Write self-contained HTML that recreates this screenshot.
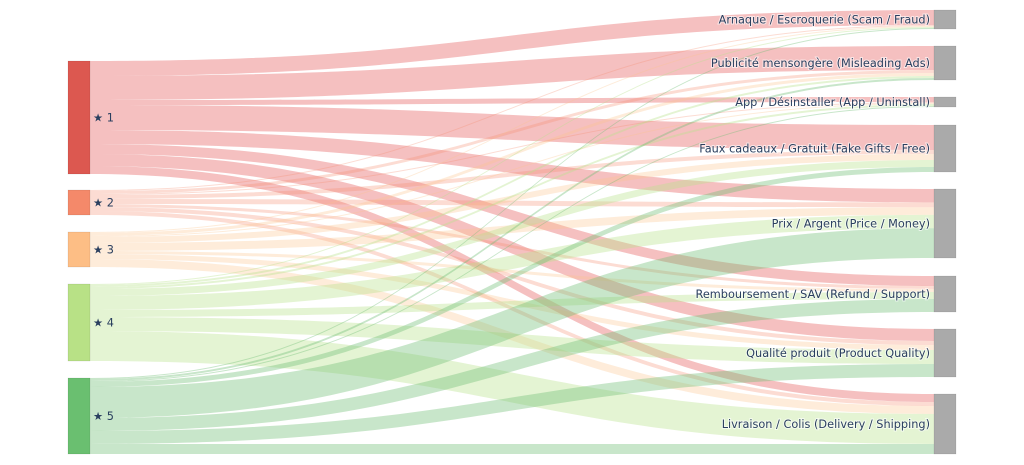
<!DOCTYPE html>
<html><head><meta charset="utf-8"><style>
html,body{margin:0;padding:0;background:#fff;width:1024px;height:465px;overflow:hidden}
text{font-family:"DejaVu Sans","Liberation Sans",sans-serif;font-size:11.3px;fill:#2a3f5f}
</style></head><body>
<svg id="s" width="1024" height="465" xmlns="http://www.w3.org/2000/svg"></svg>
<script>
const S=[[61,174,'#dc5850','rgba(230,90,90,0.38)'],[190,215,'#f4896a','rgba(244,140,110,0.3)'],[232,267,'#fdbe85','rgba(253,195,140,0.32)'],[284,361,'#b8e186','rgba(185,225,140,0.38)'],[378,454,'#6abf70','rgba(110,190,115,0.38)']];
const T=[[10,29,'Arnaque / Escroquerie (Scam / Fraud)'],[46,80,'Publicité mensongère (Misleading Ads)'],[97,107,'App / Désinstaller (App / Uninstall)'],[125,172,'Faux cadeaux / Gratuit (Fake Gifts / Free)'],[189,258,'Prix / Argent (Price / Money)'],[276,312,'Remboursement / SAV (Refund / Support)'],[329,377,'Qualité produit (Product Quality)'],[394,454,'Livraison / Colis (Delivery / Shipping)']];
const V=[[15,24,5,25,14,10,12,8],[1,3,1,4,5,3,4,4],[1,3,1,6,8,3,5,8],[1,2,2,7,14,7,14,30],[1,2,1,5,31,13,13,10]];
let h='';
const ss=S.map((s,i)=>(s[1]-s[0])/V[i].reduce((a,b)=>a+b,0));
const ts=T.map((t,j)=>(t[1]-t[0])/V.reduce((a,r)=>a+r[j],0));
const sy=S.map(s=>s[0]),ty=T.map(t=>t[0]);
const links=[];
for(let i=0;i<5;i++)for(let j=0;j<8;j++){const v=V[i][j];const w1=v*ss[i],w2=v*ts[j];links.push([i,j,sy[i],w1,0,w2]);sy[i]+=w1;}
for(let j=0;j<8;j++)for(let i=0;i<5;i++){const l=links.find(l=>l[0]==i&&l[1]==j);l[4]=ty[j];ty[j]+=l[5];}
const x0=90,x1=934,m=(x0+x1)/2;
for(const l of links){const [i,j,y0,w1,y1,w2]=l;
h+=`<path d="M${x0},${y0}C${m},${y0} ${m},${y1} ${x1},${y1}L${x1},${y1+w2}C${m},${y1+w2} ${m},${y0+w1} ${x0},${y0+w1}Z" fill="${S[i][3]}"/>`;}
S.forEach((s,i)=>{h+=`<rect x="68" y="${s[0]}" width="22" height="${s[1]-s[0]}" fill="${s[2]}" stroke="rgba(0,0,0,0.15)" stroke-width="0.5"/><text x="93" y="${(s[0]+s[1])/2+4}">★ ${i+1}</text>`;});
T.forEach(t=>{h+=`<rect x="934" y="${t[0]}" width="22" height="${t[1]-t[0]}" fill="#aaaaaa" stroke="rgba(0,0,0,0.15)" stroke-width="0.5"/><text x="930" y="${(t[0]+t[1])/2+4}" text-anchor="end" style="paint-order:stroke;stroke:#fff;stroke-width:2px;stroke-opacity:.6">${t[2]}</text>`;});
document.getElementById('s').innerHTML=h;
</script>
</body></html>
